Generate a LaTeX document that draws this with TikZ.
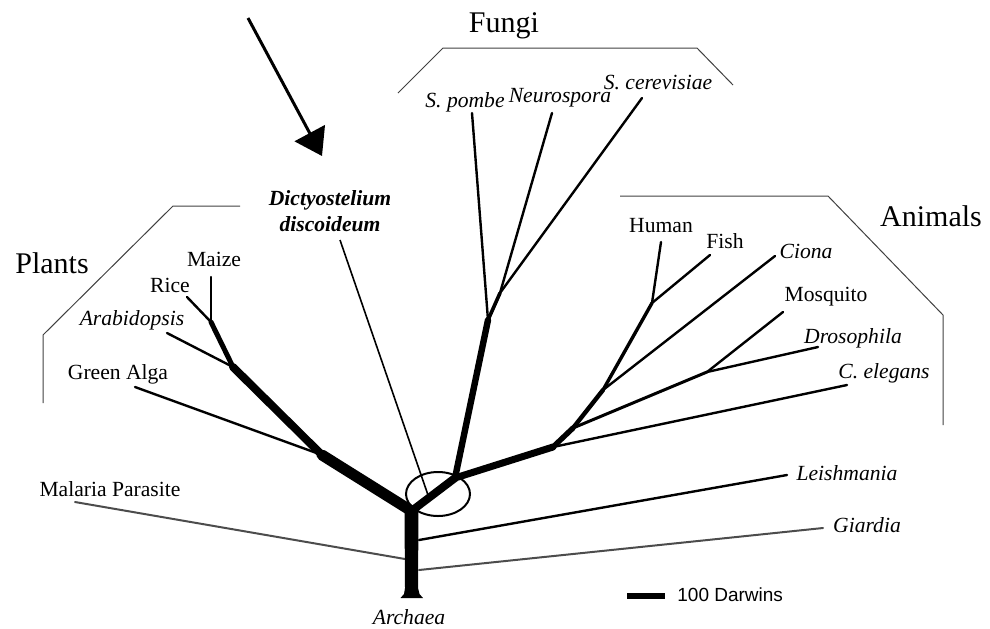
\documentclass[tikz,border=0pt]{standalone}
\usepackage{fontspec}
\setmainfont{Liberation Serif}
\newfontfamily\arialfont{Liberation Sans}
\usetikzlibrary{arrows.meta}
\begin{document}
\begin{tikzpicture}[x=0.5pt,y=-0.5pt,
  lbl/.style={inner sep=0pt,font=\fontsize{10.8}{12}\selectfont},
  ilbl/.style={lbl,font=\fontsize{10.8}{12}\selectfont\itshape},
  grp/.style={inner sep=0pt,font=\fontsize{15}{17}\selectfont},
  bracket/.style={draw=black!75,line width=0.5pt},
  leaf/.style={draw=black,line width=1.2pt,line cap=round},
  greyleaf/.style={draw=black!70,line width=1pt,line cap=round},
  br/.style={draw=black,line cap=round,line join=round,line width=#1}]
\useasboundingbox (0,0) rectangle (990,628);
% branch points
\coordinate (J0) at (411.5,511);
\coordinate (F0) at (455,478);
\coordinate (F1) at (488,320);
\coordinate (F2) at (500,293);
\coordinate (A1) at (553,447);
\coordinate (A2) at (573,428);
\coordinate (A3) at (603,390);
\coordinate (A4) at (652,303);
\coordinate (AD) at (707,372);
\coordinate (P1) at (322,455);
\coordinate (P2) at (233,367);
\coordinate (P3) at (211,322);
% tips
\coordinate (tpombe) at (472,113);
\coordinate (tneuro) at (552,113);
\coordinate (tscer) at (642,98);
\coordinate (thuman) at (661,242);
\coordinate (tfish) at (710,255);
\coordinate (tciona) at (775,256);
\coordinate (tmosq) at (783,312);
\coordinate (tdros) at (818,347);
\coordinate (tcel) at (847,385);
\coordinate (tmaize) at (211,277);
\coordinate (trice) at (187,297);
\coordinate (tarab) at (167,333);
\coordinate (talga) at (135,387);
\coordinate (tdicty) at (340,240);
\coordinate (bdicty) at (428,495);
\coordinate (bleish) at (419,540);
\coordinate (tleish) at (787,475);
\coordinate (bgiard) at (419,570);
\coordinate (tgiard) at (823,528);
\coordinate (bmal) at (405,559);
\coordinate (tmal) at (75,502);
% brackets
\draw[bracket] (43,403) -- (43,335) -- (173,206) -- (240,206);
\draw[bracket] (398,93) -- (443,48) -- (697,48) -- (733,85);
\draw[bracket] (620,196) -- (828,196) -- (943,315) -- (943,425);
% group labels
\node[grp] (plants) at (52,263) {Plants};
\node[grp] (fungi) at (504,26) {Fungi};
\node[grp] (animals) at (931,216) {Animals};
% thin lines
\draw[greyleaf] (bmal) -- (tmal);
\draw[greyleaf] (bgiard) -- (tgiard);
\draw[leaf] (bleish) -- (tleish);
\draw[draw=black,line width=0.8pt] (bdicty) -- (tdicty);
% trunk
\fill[black] (404.5,511) -- (418.5,511) -- (418,588) -- (419.5,594) -- (423,598) -- (400.5,598) -- (404,594) -- (405,588) -- cycle;
% plants
\draw[br=5.5pt] (J0) -- (P1);
\draw[br=4pt] (P1) -- (P2);
\draw[br=2.5pt] (P2) -- (P3);
\draw[leaf] (P3) -- (tmaize);
\draw[leaf] (P3) -- (trice);
\draw[leaf] (P2) -- (tarab);
\draw[leaf] (P1) -- (talga);
% fungi
\draw[br=3.2pt] (F0) -- (F1);
\draw[br=1.8pt] (F1) -- (F2);
\draw[leaf] (F1) -- (tpombe);
\draw[leaf] (F2) -- (tneuro);
\draw[leaf] (F2) -- (tscer);
% animals
\draw[br=4pt] (J0) -- (F0);
\draw[br=3.5pt] (F0) -- (A1);
\draw[br=2.7pt] (A1) -- (A2);
\draw[br=2.2pt] (A2) -- (A3);
\draw[br=1.7pt] (A3) -- (A4);
\draw[br=1.5pt] (A2) -- (AD);
\draw[leaf] (A4) -- (thuman);
\draw[leaf] (A4) -- (tfish);
\draw[leaf] (A3) -- (tciona);
\draw[leaf] (AD) -- (tmosq);
\draw[leaf] (AD) -- (tdros);
\draw[leaf] (A1) -- (tcel);
% ellipse
\draw[line width=1pt] (438,494) ellipse [x radius=32, y radius=22];
% arrow
\coordinate (arrS) at (248,18);
\coordinate (arrE) at (322,156);
\draw[line width=1.5pt,-{Triangle[length=13pt,width=17pt]}] (arrS) -- (arrE);
% labels
\node[lbl] (maize) at (214,259) {Maize};
\node[lbl] (rice) at (170,285) {Rice};
\node[ilbl] (arab) at (132,320) {Arabidopsis};
\node[lbl] (alga) at (118,374) {Green Alga};
\node[lbl,font=\fontsize{10.8}{12}\selectfont\bfseries\itshape,align=center] (dicty) at (330,211) {Dictyostelium\\[1pt]discoideum};
\node[ilbl] (pombe) at (465,102) {S. pombe};
\node[ilbl] (neuro) at (560,98) {Neurospora};
\node[ilbl] (scer) at (658,82) {S. cerevisiae};
\node[lbl] (human) at (661,226) {Human};
\node[lbl] (fish) at (725,241) {Fish};
\node[ilbl] (ciona) at (806,251) {Ciona};
\node[lbl] (mosq) at (826,297) {Mosquito};
\node[ilbl] (dros) at (853,338) {Drosophila};
\node[ilbl] (cel) at (884,373) {C. elegans};
\node[ilbl] (leish) at (847,473) {Leishmania};
\node[ilbl] (giard) at (867,525) {Giardia};
\node[lbl] (mal) at (110,489) {Malaria Parasite};
\node[ilbl] (arch) at (409,617) {Archaea};
% scale bar
\coordinate (sb1) at (627,596);
\coordinate (sb2) at (665,596);
\draw[line width=3pt] (sb1) -- (sb2);
\node[inner sep=0pt,font=\arialfont\fontsize{9.5}{11}\selectfont,anchor=west] (scale) at (677,595) {100 Darwins};
\end{tikzpicture}
\end{document}
